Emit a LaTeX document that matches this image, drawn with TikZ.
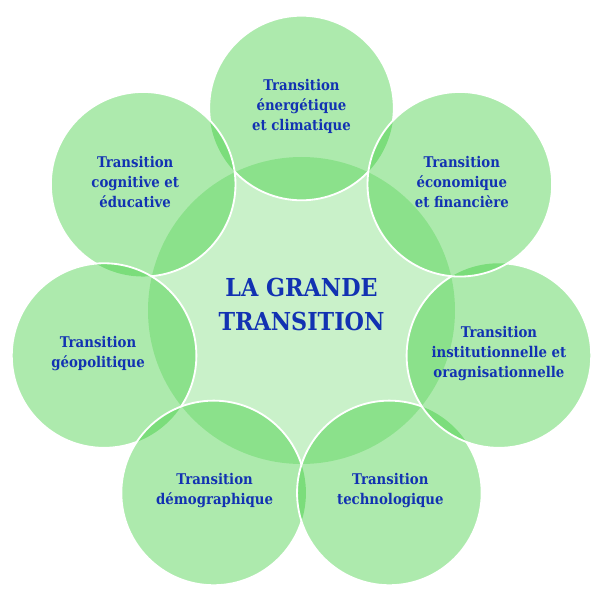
\documentclass[tikz,border=0pt]{standalone}
\usepackage{fontspec}
\setmainfont{DejaVu Serif Condensed}
\usetikzlibrary{positioning,calc}
\definecolor{leafgreen}{RGB}{40,200,40}
\definecolor{inkblue}{RGB}{18,50,178}
\tikzset{
  corefill/.style={fill=leafgreen, fill opacity=0.25},
  petalfill/.style={fill=leafgreen, fill opacity=0.38},
  rim/.style={draw=white, line width=1.3pt},
  petaltext/.style={text=inkblue, align=center, inner sep=0pt, font=\bfseries\fontsize{10.5}{14.2}\selectfont},
  coretext/.style={text=inkblue, align=center, inner sep=0pt, font=\bfseries\fontsize{17.6}{24.6}\selectfont}
}

\begin{document}
\begin{tikzpicture}[x=0.025cm, y=0.025cm]
\useasboundingbox (0,0) rectangle (600,600);
\coordinate (core) at (301.5,289.5);
\foreach \k in {0,...,6}
  \coordinate (c\k) at ($(core)+({90+\k*360/7}:202.5)$);
% fills
\fill[corefill] (core) circle (153.5);
\foreach \k in {0,...,6}
  \fill[petalfill] (c\k) circle (92.3);
% white rims, hidden inside the circle drawn after
\begin{scope}
  \clip (0,0) rectangle (600,600) (c1) circle (92.3);
  \clip (0,0) rectangle (600,600) (c6) circle (92.3);
  \draw[rim] (c0) circle (92.3);
\end{scope}
\foreach \k/\nxt in {1/2,2/3,3/4,4/5,5/6}{
  \begin{scope}
    \clip (0,0) rectangle (600,600) (c\nxt) circle (92.3);
    \draw[rim] (c\k) circle (92.3);
  \end{scope}
}
\draw[rim] (c6) circle (92.3);
% texts
\node[coretext] (title) at ($(core)+(0,6)$) {LA GRANDE\\TRANSITION};
\foreach \k/\dx/\txt in {0/0/{Transition\\énergétique\\et climatique},
    1/-8/{Transition\\cognitive et\\éducative},
    2/-6/{Transition\\géopolitique},
    3/1/{Transition\\démographique},
    4/1/{Transition\\technologique},
    5/0/{Transition\\institutionnelle et\\oragnisationnelle},
    6/2/{Transition\\économique\\et financière}}
  \node[petaltext] (t\k) at ($(c\k)+(\dx,2)$) {\txt};
\end{tikzpicture}
\end{document}
